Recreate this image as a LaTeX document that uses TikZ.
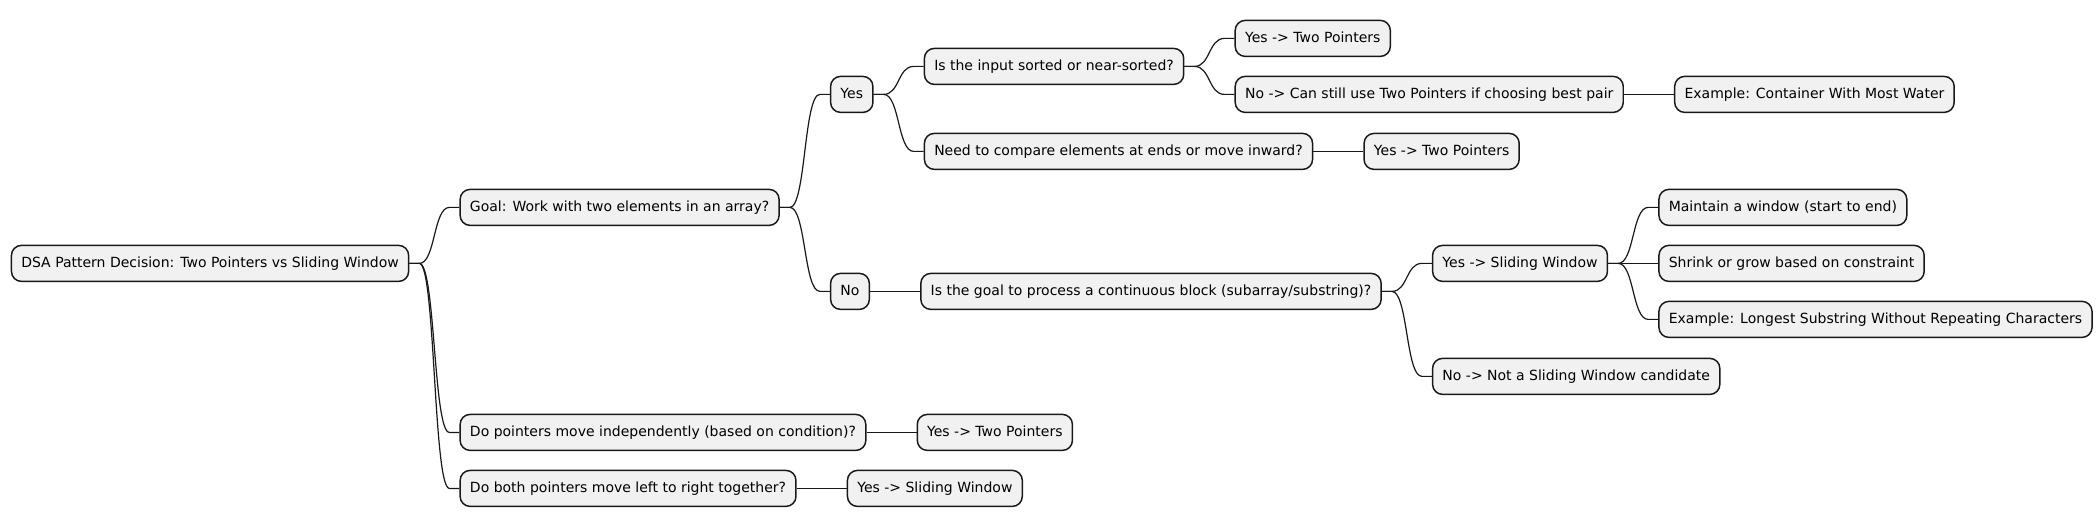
\documentclass[tikz,border=0pt]{standalone}
\usepackage{fontspec}
\setmainfont{DejaVu Sans}
\definecolor{bdr}{HTML}{181818}
\definecolor{boxfill}{HTML}{F1F1F1}
\begin{document}
\begin{tikzpicture}[x=0.75pt,y=-0.75pt,
  box/.style={draw=bdr, fill=boxfill, line width=1.1pt, rounded corners=7.5pt,
    minimum height=27pt, inner xsep=7.4pt, inner ysep=0pt, anchor=west,
    font=\fontsize{10.5pt}{12.6pt}\selectfont, text=black,
    text height=8pt, text depth=2.4pt},
  link/.style={draw=bdr, line width=0.9pt}]
\useasboundingbox (0,0) rectangle (2100,527);
\newcommand\lnk[2]{\draw[link] (#1.east) -- ++(10,0) .. controls +(16,0) and +(-16,0) .. ([xshift=-7.5pt]#2.west) -- (#2.west);}
\def\g{37.5pt}
\node[box] (root) at (10.7,263.4) {DSA Pattern Decision: Two Pointers vs Sliding Window};
\node[box] (goal) at ([xshift=\g]root.east |- 0,207.4) {Goal: Work with two elements in an array?};
\node[box] (yes) at ([xshift=\g]goal.east |- 0,94.4) {Yes};
\node[box] (no) at ([xshift=\g]goal.east |- 0,291.4) {No};
\node[box] (isinput) at ([xshift=\g]yes.east |- 0,66.4) {Is the input sorted or near-sorted?};
\node[box] (need) at ([xshift=\g]yes.east |- 0,151.4) {Need to compare elements at ends or move inward?};
\node[box] (isgoal) at ([xshift=\g]no.east |- 0,291.4) {Is the goal to process a continuous block (subarray/substring)?};
\node[box] (ytp1) at ([xshift=\g]isinput.east |- 0,38.4) {Yes -> Two Pointers};
\node[box] (nocan) at ([xshift=\g]isinput.east |- 0,94.4) {No -> Can still use Two Pointers if choosing best pair};
\node[box] (excont) at ([xshift=\g]nocan.east |- 0,94.4) {Example: Container With Most Water};
\node[box] (ytp2) at ([xshift=\g]need.east |- 0,151.4) {Yes -> Two Pointers};
\node[box] (ysw) at ([xshift=\g]isgoal.east |- 0,263.4) {Yes -> Sliding Window};
\node[box] (maint) at ([xshift=\g]ysw.east |- 0,207.4) {Maintain a window (start to end)};
\node[box] (shrink) at ([xshift=\g]ysw.east |- 0,263.4) {Shrink or grow based on constraint};
\node[box] (exlong) at ([xshift=\g]ysw.east |- 0,319.4) {Example: Longest Substring Without Repeating Characters};
\node[box] (nonot) at ([xshift=\g]isgoal.east |- 0,376.4) {No -> Not a Sliding Window candidate};
\node[box] (doind) at ([xshift=\g]root.east |- 0,432.4) {Do pointers move independently (based on condition)?};
\node[box] (ytp3) at ([xshift=\g]doind.east |- 0,432.4) {Yes -> Two Pointers};
\node[box] (doboth) at ([xshift=\g]root.east |- 0,488.4) {Do both pointers move left to right together?};
\node[box] (ysw2) at ([xshift=\g]doboth.east |- 0,488.4) {Yes -> Sliding Window};
\lnk{root}{goal}
\lnk{root}{doind}
\lnk{root}{doboth}
\lnk{goal}{yes}
\lnk{goal}{no}
\lnk{yes}{isinput}
\lnk{yes}{need}
\lnk{no}{isgoal}
\lnk{isinput}{ytp1}
\lnk{isinput}{nocan}
\lnk{nocan}{excont}
\lnk{need}{ytp2}
\lnk{isgoal}{ysw}
\lnk{isgoal}{nonot}
\lnk{ysw}{maint}
\lnk{ysw}{shrink}
\lnk{ysw}{exlong}
\lnk{doind}{ytp3}
\lnk{doboth}{ysw2}
\end{tikzpicture}
\end{document}
